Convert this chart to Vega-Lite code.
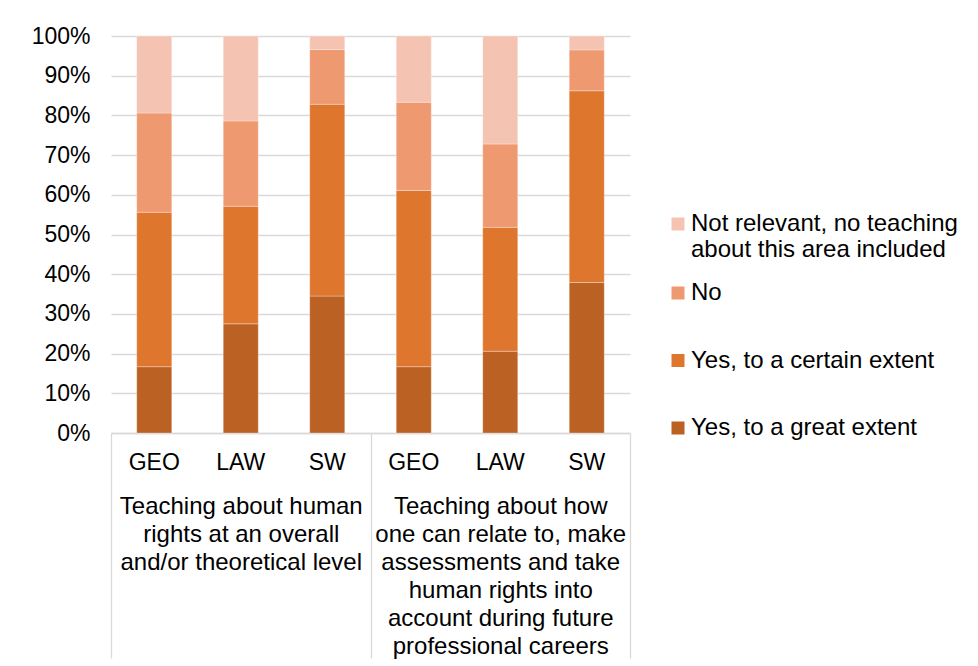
{
  "$schema": "https://vega.github.io/schema/vega-lite/v6.json",
  "width": 519,
  "height": 397,
  "autosize": {"type": "none"},
  "padding": {"left": 111, "top": 36, "right": 348, "bottom": 233},
  "background": "#ffffff",
  "config": {
    "font": "Liberation Sans",
    "view": {"stroke": null},
    "axis": {"labelFont": "Liberation Sans", "labelFontSize": 23, "labelColor": "#000000"},
    "legend": {"labelFont": "Liberation Sans", "labelFontSize": 24, "labelColor": "#000000"}
  },
  "data": {
    "values": [
      {"group": "Overall", "bar": "GEO 1", "response": "Yes, to a great extent", "level": 1, "pct": 16.7},
      {"group": "Overall", "bar": "GEO 1", "response": "Yes, to a certain extent", "level": 2, "pct": 38.9},
      {"group": "Overall", "bar": "GEO 1", "response": "No", "level": 3, "pct": 25.0},
      {"group": "Overall", "bar": "GEO 1", "response": "Not relevant, no teaching about this area included", "level": 4, "pct": 19.4},
      {"group": "Overall", "bar": "LAW 1", "response": "Yes, to a great extent", "level": 1, "pct": 27.5},
      {"group": "Overall", "bar": "LAW 1", "response": "Yes, to a certain extent", "level": 2, "pct": 29.6},
      {"group": "Overall", "bar": "LAW 1", "response": "No", "level": 3, "pct": 21.5},
      {"group": "Overall", "bar": "LAW 1", "response": "Not relevant, no teaching about this area included", "level": 4, "pct": 21.4},
      {"group": "Overall", "bar": "SW 1", "response": "Yes, to a great extent", "level": 1, "pct": 34.5},
      {"group": "Overall", "bar": "SW 1", "response": "Yes, to a certain extent", "level": 2, "pct": 48.3},
      {"group": "Overall", "bar": "SW 1", "response": "No", "level": 3, "pct": 13.8},
      {"group": "Overall", "bar": "SW 1", "response": "Not relevant, no teaching about this area included", "level": 4, "pct": 3.4},
      {"group": "Careers", "bar": "GEO 2", "response": "Yes, to a great extent", "level": 1, "pct": 16.7},
      {"group": "Careers", "bar": "GEO 2", "response": "Yes, to a certain extent", "level": 2, "pct": 44.4},
      {"group": "Careers", "bar": "GEO 2", "response": "No", "level": 3, "pct": 22.2},
      {"group": "Careers", "bar": "GEO 2", "response": "Not relevant, no teaching about this area included", "level": 4, "pct": 16.7},
      {"group": "Careers", "bar": "LAW 2", "response": "Yes, to a great extent", "level": 1, "pct": 20.6},
      {"group": "Careers", "bar": "LAW 2", "response": "Yes, to a certain extent", "level": 2, "pct": 31.2},
      {"group": "Careers", "bar": "LAW 2", "response": "No", "level": 3, "pct": 21.0},
      {"group": "Careers", "bar": "LAW 2", "response": "Not relevant, no teaching about this area included", "level": 4, "pct": 27.2},
      {"group": "Careers", "bar": "SW 2", "response": "Yes, to a great extent", "level": 1, "pct": 37.9},
      {"group": "Careers", "bar": "SW 2", "response": "Yes, to a certain extent", "level": 2, "pct": 48.3},
      {"group": "Careers", "bar": "SW 2", "response": "No", "level": 3, "pct": 10.3},
      {"group": "Careers", "bar": "SW 2", "response": "Not relevant, no teaching about this area included", "level": 4, "pct": 3.5}
    ]
  },
  "layer": [
    {
      "mark": {"type": "bar", "stroke": "#ffffff", "strokeWidth": 0.6, "strokeOpacity": 0.5},
      "encoding": {
        "x": {
          "field": "bar", "type": "nominal", "sort": null,
          "scale": {"paddingInner": 0.595, "paddingOuter": 0.2975},
          "axis": {
            "title": null, "labelAngle": 0, "ticks": false, "domain": true,
            "domainColor": "#D9D9D9", "domainWidth": 1.3, "labelPadding": 18,
            "labelExpr": "split(datum.label, ' ')[0]"
          }
        },
        "y": {
          "field": "pct", "type": "quantitative", "stack": "normalize",
          "axis": {
            "title": null, "format": ".0%", "values": [0, 0.1, 0.2, 0.3, 0.4, 0.5, 0.6, 0.7, 0.8, 0.9, 1],
            "domain": false, "ticks": false, "labelPadding": 21,
            "gridColor": "#D9D9D9", "gridWidth": 1.3
          }
        },
        "order": {"field": "level", "type": "quantitative", "sort": "ascending"},
        "color": {
          "field": "response", "type": "nominal",
          "scale": {
            "domain": ["Not relevant, no teaching about this area included", "No", "Yes, to a certain extent", "Yes, to a great extent"],
            "range": ["#F5C3B2", "#EF9970", "#DE762D", "#BC6124"]
          },
          "legend": {
            "title": null, "orient": "none", "legendX": 555, "legendY": 245,
            "values": ["No", "Yes, to a certain extent", "Yes, to a great extent"],
            "padding": 0, "symbolType": "square", "symbolSize": 169, "symbolStrokeWidth": 0,
            "labelOffset": 1, "rowPadding": 43.5, "labelLimit": 0
          }
        }
      }
    },
    {
      "mark": {"type": "tick", "opacity": 0},
      "encoding": {
        "x": {
          "field": "group", "type": "nominal", "sort": null,
          "scale": {"paddingInner": 0, "paddingOuter": 0},
          "axis": {
            "title": null, "orient": "bottom", "labelAngle": 0, "tickBand": "extent",
            "ticks": true, "tickSize": 225, "tickColor": "#D9D9D9", "tickWidth": 1.3,
            "domain": false, "labelPadding": -164, "labelLineHeight": 28, "labelLimit": 0,
            "labelFontSize": 24,
            "labelOverlap": false, "labelBound": false, "labelFlush": false,
            "labelExpr": "datum.label == 'Overall' ? ['Teaching about human', 'rights at an overall', 'and/or theoretical level'] : datum.label == 'Careers' ? ['Teaching about how', 'one can relate to, make', 'assessments and take', 'human rights into', 'account during future', 'professional careers'] : ''"
          }
        },
        "color": {
          "field": "response", "type": "nominal",
          "scale": {
            "domain": ["Not relevant, no teaching about this area included", "No", "Yes, to a certain extent", "Yes, to a great extent"],
            "range": ["#F5C3B2", "#EF9970", "#DE762D", "#BC6124"]
          },
          "legend": {
            "title": null, "orient": "none", "legendX": 555, "legendY": 176,
            "values": ["Not relevant, no teaching about this area included"],
            "padding": 0, "symbolType": "square", "symbolSize": 169, "symbolStrokeWidth": 0,
            "symbolOpacity": 1, "labelOpacity": 1,
            "labelOffset": 1, "labelLimit": 0,
            "labelExpr": "['Not relevant, no teaching', 'about this area included']"
          }
        }
      }
    }
  ],
  "resolve": {"scale": {"x": "independent", "color": "independent"}, "axis": {"x": "independent"}, "legend": {"color": "independent"}}
}
